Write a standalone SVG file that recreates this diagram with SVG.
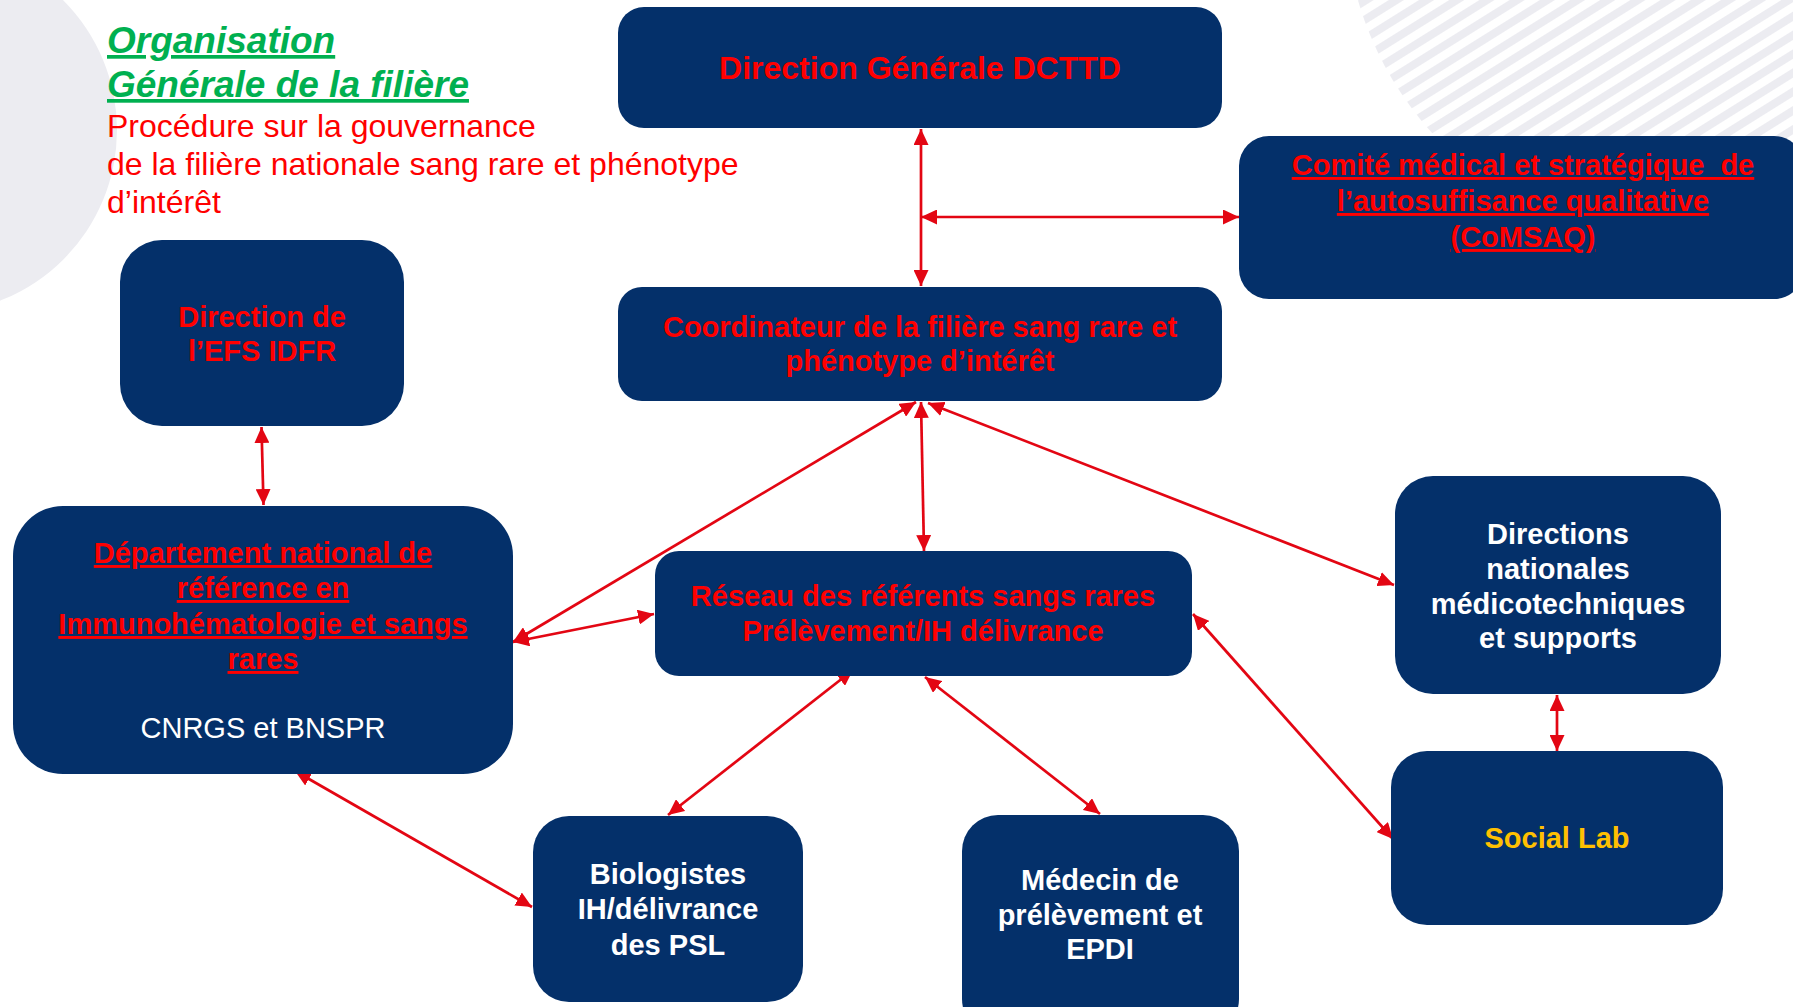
<svg xmlns="http://www.w3.org/2000/svg" width="1793" height="1007" viewBox="0 0 1793 1007">
<style>
.box{fill:#04306a;}
.t{font-family:"Liberation Sans",Arial,sans-serif;font-weight:bold;font-size:29px;text-anchor:middle;}
.red{fill:#ff0000;}
.wh{fill:#ffffff;}
.ul{text-decoration:underline;}
.conn{stroke:#e30613;stroke-width:2.7;fill:none;marker-start:url(#ah);marker-end:url(#ah);}
.title{font-family:"Liberation Sans",Arial,sans-serif;font-weight:bold;font-style:italic;font-size:37px;fill:#00b050;text-decoration:underline;}
.sub{font-family:"Liberation Sans",Arial,sans-serif;font-size:32px;fill:#ff0000;}
</style>
<defs>
<marker id="ah" viewBox="0 0 16 15" refX="16" refY="7.5" markerWidth="16" markerHeight="15" markerUnits="userSpaceOnUse" orient="auto-start-reverse">
<path d="M0,0 L16,7.5 L0,15 z" fill="#e30613"/>
</marker>
<pattern id="stripes" patternUnits="userSpaceOnUse" width="16" height="16" patternTransform="rotate(-32)">
<rect x="0" y="0" width="16" height="8" fill="#ececf1"/>
</pattern>
<clipPath id="circR"><circle cx="1679" cy="-92" r="334"/></clipPath>
</defs>
<rect width="1793" height="1007" fill="#ffffff"/>
<g id="background">
<circle cx="-66" cy="130" r="183" fill="#ececf1"/>
<rect x="1340" y="0" width="460" height="300" fill="url(#stripes)" clip-path="url(#circR)"/>
</g>
<g id="header">
<text class="title" x="107" y="53">Organisation</text>
<text class="title" x="107" y="97">Générale de la filière</text>
<text class="sub" x="107" y="137">Procédure sur la gouvernance</text>
<text class="sub" x="107" y="175">de la filière nationale sang rare et phénotype</text>
<text class="sub" x="107" y="213">d’intérêt</text>
</g>
<g id="connectors">
<line class="conn" x1="921" y1="129" x2="921" y2="286"/>
<line class="conn" x1="921" y1="217" x2="1239" y2="217"/>
<line class="conn" x1="261.5" y1="427" x2="263.5" y2="505"/>
<line class="conn" x1="916" y1="402" x2="513" y2="642"/>
<line class="conn" x1="921" y1="402" x2="924" y2="551"/>
<line class="conn" x1="928" y1="403" x2="1394" y2="585"/>
<line class="conn" x1="513" y1="642" x2="654" y2="614"/>
<line class="conn" x1="295" y1="771" x2="532" y2="907"/>
<line class="conn" x1="853" y1="670" x2="668" y2="815"/>
<line class="conn" x1="925" y1="677" x2="1100" y2="814"/>
<line class="conn" x1="1193" y1="614" x2="1393" y2="839"/>
<line class="conn" x1="1557" y1="695" x2="1557" y2="751"/>
</g>
<g id="dg">
<rect class="box" x="618" y="7" width="604" height="121" rx="26"/>
<text class="t red" x="920" y="79" style="font-size:32px">Direction Générale DCTTD</text>
</g>
<g id="comsaq">
<rect class="box" x="1239" y="136" width="565" height="163" rx="30"/>
<text class="t red ul" x="1523" y="175" xml:space="preserve">Comité médical et stratégique  de</text>
<text class="t red ul" x="1523" y="211">l’autosuffisance qualitative</text>
<text class="t red ul" x="1523" y="247">(CoMSAQ)</text>
</g>
<g id="efs">
<rect class="box" x="120" y="240" width="284" height="186" rx="42"/>
<text class="t red" x="262" y="327">Direction de</text>
<text class="t red" x="262" y="361">l’EFS IDFR</text>
</g>
<g id="coord">
<rect class="box" x="618" y="287" width="604" height="114" rx="24"/>
<text class="t red" x="920" y="337">Coordinateur de la filière sang rare et</text>
<text class="t red" x="920" y="371">phénotype d’intérêt</text>
</g>
<g id="dept">
<rect class="box" x="13" y="506" width="500" height="268" rx="50"/>
<text class="t red ul" x="263" y="563">Département national de</text>
<text class="t red ul" x="263" y="598">référence en</text>
<text class="t red ul" x="263" y="634">Immunohématologie et sangs</text>
<text class="t red ul" x="263" y="669">rares</text>
<text class="t wh" x="263" y="738" style="font-weight:normal">CNRGS et BNSPR</text>
</g>
<g id="reseau">
<rect class="box" x="655" y="551" width="537" height="125" rx="24"/>
<text class="t red" x="923" y="606">Réseau des référents sangs rares</text>
<text class="t red" x="923" y="641">Prélèvement/IH délivrance</text>
</g>
<g id="dirnat">
<rect class="box" x="1395" y="476" width="326" height="218" rx="38"/>
<text class="t wh" x="1558" y="544">Directions</text>
<text class="t wh" x="1558" y="579">nationales</text>
<text class="t wh" x="1558" y="614">médicotechniques</text>
<text class="t wh" x="1558" y="648">et supports</text>
</g>
<g id="sociallab">
<rect class="box" x="1391" y="751" width="332" height="174" rx="36"/>
<text class="t" x="1557" y="848" style="fill:#ffc000">Social Lab</text>
</g>
<g id="bio">
<rect class="box" x="533" y="816" width="270" height="186" rx="36"/>
<text class="t wh" x="668" y="884">Biologistes</text>
<text class="t wh" x="668" y="919">IH/délivrance</text>
<text class="t wh" x="668" y="955">des PSL</text>
</g>
<g id="medecin">
<rect class="box" x="962" y="815" width="277" height="220" rx="36"/>
<text class="t wh" x="1100" y="890">Médecin de</text>
<text class="t wh" x="1100" y="925">prélèvement et</text>
<text class="t wh" x="1100" y="959">EPDI</text>
</g>
</svg>
